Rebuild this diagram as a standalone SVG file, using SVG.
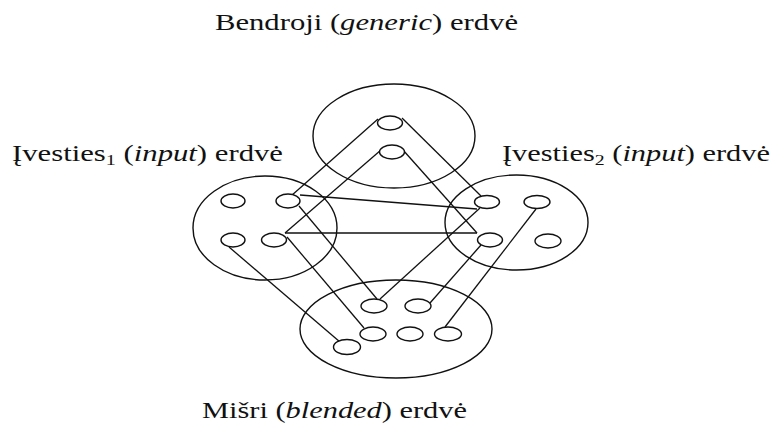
<svg xmlns="http://www.w3.org/2000/svg" width="776" height="428" viewBox="0 0 776 428">
  <style>
    .space { fill: none; stroke: #111; stroke-width: 1.4; }
    .elem { fill: #fff; stroke: #111; stroke-width: 1.4; }
    .link { fill: none; stroke: #111; stroke-width: 1.3; }
    .label { font-family: "Liberation Serif", "DejaVu Serif", serif; font-size: 23px; fill: #111; }
    .it { font-style: italic; }
    .sub { font-size: 15px; }
  </style>

  <!-- connectors between elements of the spaces -->
  <g id="connectors">
    <line class="link" x1="378" y1="119" x2="291" y2="196"/>
    <line class="link" x1="402" y1="118" x2="481" y2="196"/>
    <line class="link" x1="381" y1="150" x2="285" y2="233"/>
    <line class="link" x1="403" y1="150" x2="477" y2="233"/>
    <line class="link" x1="285" y1="233" x2="477" y2="233"/>
    <line class="link" x1="300" y1="195" x2="477" y2="209"/>
    <line class="link" x1="299" y1="206" x2="377" y2="299"/>
    <line class="link" x1="287" y1="237" x2="364" y2="328"/>
    <line class="link" x1="229" y1="247" x2="340" y2="342"/>
    <line class="link" x1="480" y1="208" x2="380" y2="299"/>
    <line class="link" x1="481" y1="245" x2="430" y2="303"/>
    <line class="link" x1="536" y1="209" x2="445" y2="327"/>
  </g>

  <!-- generic space -->
  <g id="generic-space">
    <ellipse class="space" cx="394" cy="136" rx="81" ry="52"/>
    <g id="g1"><ellipse class="elem" cx="390" cy="123" rx="12.5" ry="7"/></g>
    <g id="g2"><ellipse class="elem" cx="392" cy="152" rx="12.5" ry="7"/></g>
  </g>

  <!-- input space 1 -->
  <g id="input1-space">
    <ellipse class="space" cx="265" cy="228" rx="72" ry="52"/>
    <g id="i1a"><ellipse class="elem" cx="233" cy="201" rx="12" ry="7"/></g>
    <g id="i1b"><ellipse class="elem" cx="288" cy="201" rx="12" ry="7"/></g>
    <g id="i1c"><ellipse class="elem" cx="233" cy="240" rx="12" ry="7"/></g>
    <g id="i1d"><ellipse class="elem" cx="274" cy="240" rx="12.5" ry="7"/></g>
  </g>

  <!-- input space 2 -->
  <g id="input2-space">
    <ellipse class="space" cx="516.5" cy="222.5" rx="71.5" ry="47.5"/>
    <g id="i2a"><ellipse class="elem" cx="487" cy="202" rx="12.5" ry="6.5"/></g>
    <g id="i2b"><ellipse class="elem" cx="537" cy="202" rx="13" ry="6.5"/></g>
    <g id="i2c"><ellipse class="elem" cx="490" cy="240" rx="12.5" ry="7"/></g>
    <g id="i2d"><ellipse class="elem" cx="548" cy="241" rx="13" ry="7"/></g>
  </g>

  <!-- blended space -->
  <g id="blended-space">
    <ellipse class="space" cx="396" cy="329" rx="96" ry="49"/>
    <g id="b1"><ellipse class="elem" cx="374" cy="306" rx="13" ry="7"/></g>
    <g id="b2"><ellipse class="elem" cx="418" cy="306" rx="13" ry="7"/></g>
    <g id="b3"><ellipse class="elem" cx="373" cy="334" rx="13" ry="7"/></g>
    <g id="b4"><ellipse class="elem" cx="410" cy="334" rx="13" ry="7"/></g>
    <g id="b5"><ellipse class="elem" cx="448" cy="334" rx="13.5" ry="7"/></g>
    <g id="b6"><ellipse class="elem" cx="347" cy="347" rx="13.5" ry="7.5"/></g>
  </g>

  <!-- labels -->
  <g id="labels">
    <text class="label" x="215" y="30" textLength="303" lengthAdjust="spacingAndGlyphs">Bendroji (<tspan class="it">generic</tspan>) erdvė</text>
    <text class="label" x="12" y="161" textLength="271" lengthAdjust="spacingAndGlyphs">Įvesties<tspan class="sub" dy="4">1</tspan><tspan dy="-4"> (</tspan><tspan class="it">input</tspan>) erdvė</text>
    <text class="label" x="502" y="161" textLength="268" lengthAdjust="spacingAndGlyphs">Įvesties<tspan class="sub" dy="4">2</tspan><tspan dy="-4"> (</tspan><tspan class="it">input</tspan>) erdvė</text>
    <text class="label" x="202" y="418" textLength="265" lengthAdjust="spacingAndGlyphs">Mišri (<tspan class="it">blended</tspan>) erdvė</text>
  </g>
</svg>
